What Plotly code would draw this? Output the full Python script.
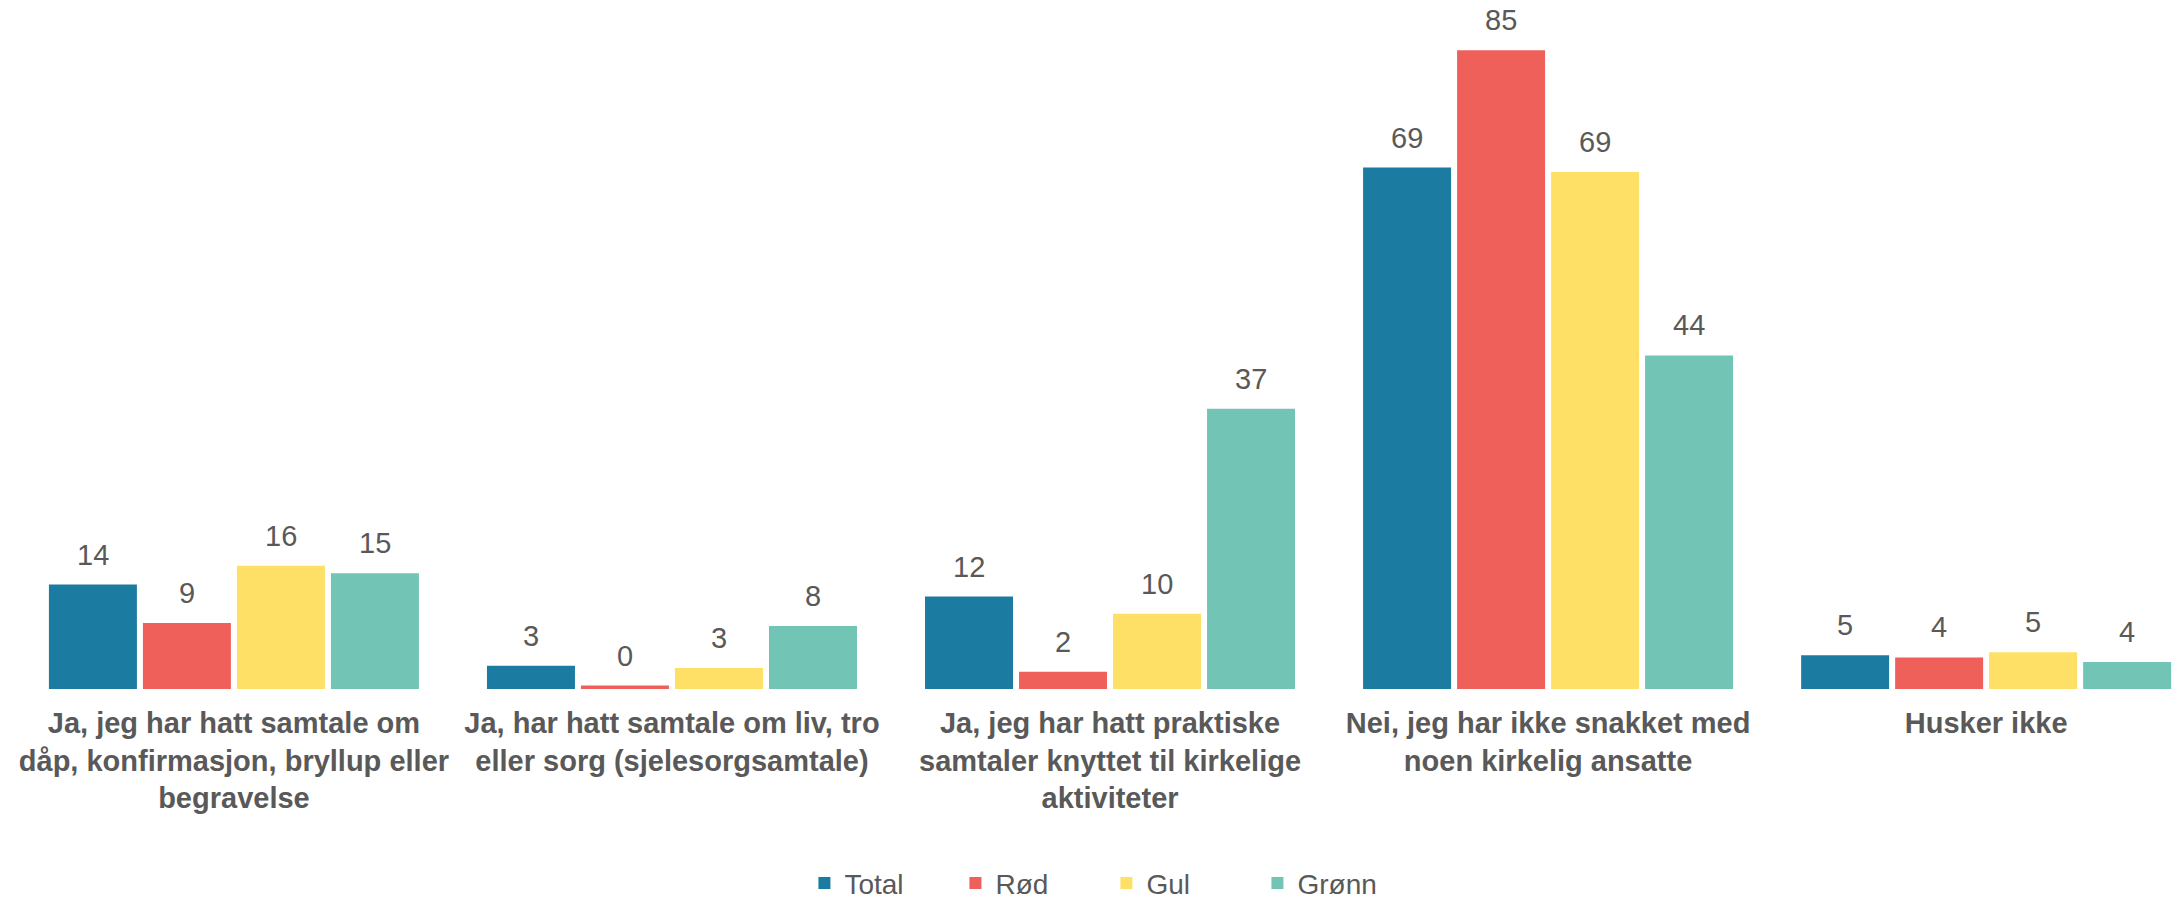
import math
import plotly.graph_objects as go

categories = [
    "Ja, jeg har hatt samtale om<br>dåp, konfirmasjon, bryllup eller<br>begravelse",
    "Ja, har hatt samtale om liv, tro<br>eller sorg (sjelesorgsamtale)",
    "Ja, jeg har hatt praktiske<br>samtaler knyttet til kirkelige<br>aktiviteter",
    "Nei, jeg har ikke snakket med<br>noen kirkelig ansatte",
    "Husker ikke",
]
series_names = ["Total", "Rød", "Gul", "Grønn"]
total = [13.9, 3.1, 12.3, 69.4, 4.5]
rod = [8.8, 0.45, 2.3, 85.0, 4.2]
gul = [16.4, 2.8, 10.0, 68.8, 4.9]
gronn = [15.4, 8.4, 37.3, 44.4, 3.6]
series_values = [total, rod, gul, gronn]
colors = ["#1C7BA1", "#F0605A", "#FDE065", "#72C4B4"]

text_color = "#595959"
bargap = 0.1416
bargroupgap = 0.064
font_family = "Liberation Sans, Arial"


def fmt(v):
    return str(int(math.floor(v + 0.5)))


fig = go.Figure()
for name, vals, col in zip(series_names, series_values, colors):
    fig.add_trace(go.Bar(
        name=name, x=categories, y=vals,
        marker=dict(color=col, line=dict(width=0)),
        hoverinfo="y",
    ))

# value labels above bars
n = len(series_names)
slot = (1 - bargap) / n
annotations = []
for j, vals in enumerate(series_values):
    for i, v in enumerate(vals):
        annotations.append(dict(
            x=i + (j - (n - 1) / 2) * slot, y=v, xref="x", yref="y",
            text=fmt(v), showarrow=False, yanchor="bottom",
            yshift=12, font=dict(family=font_family, size=29, color=text_color),
        ))

fig.update_layout(
    width=2178, height=900,
    margin=dict(l=0, r=0, t=0, b=211, autoexpand=False),
    paper_bgcolor="white", plot_bgcolor="white",
    barmode="group", bargap=bargap, bargroupgap=bargroupgap,
    font=dict(family=font_family, size=28, color=text_color),
    annotations=annotations,
    showlegend=True,
    legend=dict(
        orientation="h", x=0.508, xanchor="center", y=-0.282, yanchor="middle",
        font=dict(family=font_family, size=28, color=text_color), entrywidth=106,
        traceorder="normal",
    ),
    xaxis=dict(
        type="category", range=[-0.534, 4.438], showline=False, showgrid=False,
        ticks="", tickangle=0, ticklabelstandoff=14, automargin=False,
        tickfont=dict(family=font_family, size=29, color=text_color, weight="bold"),
    ),
    yaxis=dict(range=[0, 91.7], visible=False, showgrid=False, zeroline=False,
               automargin=False),
)

fig.write_html(
    "out.html",
    config={"displayModeBar": False},
    post_script="document.body.style.margin='0';document.body.style.overflow='hidden';",
)
